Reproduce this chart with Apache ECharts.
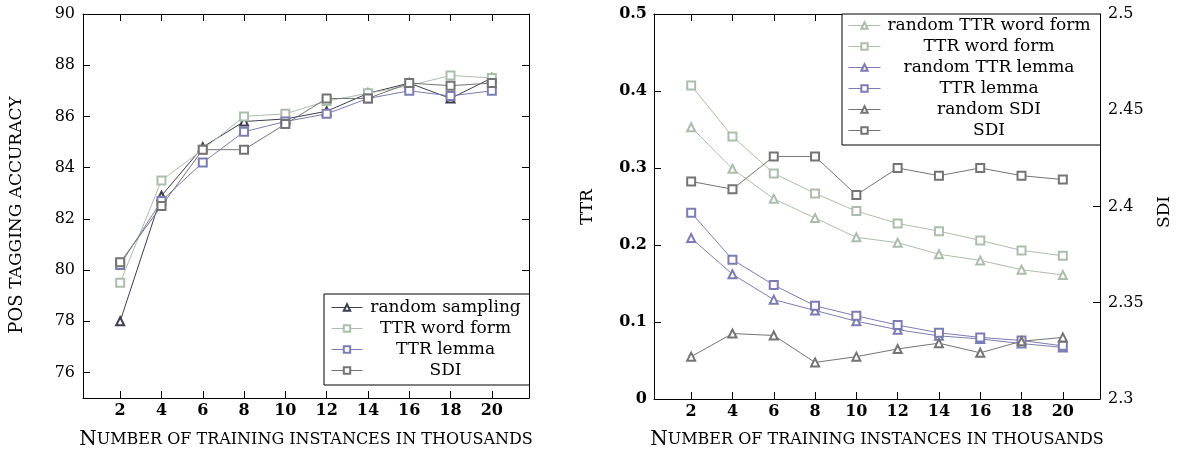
<!DOCTYPE html>
<html>
<head>
<meta charset="utf-8">
<script src="https://cdn.jsdelivr.net/npm/echarts@6/dist/echarts.min.js"></script>
<style>html,body{margin:0;padding:0;background:#fff;}#c{width:1183px;height:456px;}</style>
</head>
<body>
<div id="c"></div>
<script>
// ---------- data ----------
const xValues = [2, 4, 6, 8, 10, 12, 14, 16, 18, 20];
const xTicks = [2, 4, 6, 8, 10, 12, 14, 16, 18, 20];
const accTicks = [76, 78, 80, 82, 84, 86, 88, 90];
const ttrTicks = [0, 0.1, 0.2, 0.3, 0.4, 0.5];
const sdiTicks = [2.3, 2.35, 2.4, 2.45, 2.5];

// left chart: POS tagging accuracy
const accRandomSampling = [78.0, 82.9, 84.8, 85.8, 85.9, 86.2, 86.9, 87.3, 86.7, 87.5];
const accTTRWordForm    = [79.5, 83.5, 84.7, 86.0, 86.1, 86.6, 86.9, 87.2, 87.6, 87.5];
const accTTRLemma       = [80.2, 82.7, 84.2, 85.4, 85.8, 86.1, 86.7, 87.0, 86.8, 87.0];
const accSDI            = [80.3, 82.5, 84.7, 84.7, 85.7, 86.7, 86.7, 87.3, 87.2, 87.3];

// right chart: TTR (left axis) and SDI (right axis)
const randomTTRWordForm = [0.353, 0.299, 0.260, 0.235, 0.210, 0.203, 0.188, 0.180, 0.168, 0.161];
const ttrWordForm       = [0.407, 0.341, 0.293, 0.267, 0.244, 0.228, 0.218, 0.206, 0.193, 0.186];
const randomTTRLemma    = [0.209, 0.162, 0.129, 0.115, 0.101, 0.090, 0.082, 0.078, 0.072, 0.067];
const ttrLemma          = [0.242, 0.181, 0.148, 0.121, 0.108, 0.096, 0.086, 0.080, 0.076, 0.069];
const randomSDI         = [2.322, 2.334, 2.333, 2.319, 2.322, 2.326, 2.329, 2.324, 2.330, 2.332];
const sdiValues         = [2.413, 2.409, 2.426, 2.426, 2.406, 2.420, 2.416, 2.420, 2.416, 2.414];

// ---------- styling ----------
const FONT = 'DejaVu Serif';
const C_DARK = '#3e3e4e';
const C_GREEN = '#adbdad';
const C_BLUE = '#7c7cb2';
const C_GRAY = '#747474';

const pair = (ys) => xValues.map((x, i) => [x, ys[i]]);

function mkSeries(name, data, color, symbol, xi, yi) {
  return {
    type: 'line', name: name, data: pair(data),
    xAxisIndex: xi, yAxisIndex: yi,
    symbol: symbol, symbolSize: 8,
    showAllSymbol: true,
    lineStyle: { color: color, width: 1 },
    itemStyle: { color: color, borderColor: color, borderWidth: 1 },
    emphasis: { disabled: true },
    animation: false, z: 3
  };
}

const axisLine = { show: true, onZero: false, lineStyle: { color: '#000', width: 1 } };
function xAx(grid, pos, labels) {
  return {
    type: 'value', gridIndex: grid, position: pos, min: 0.2, max: 21.8,
    axisLine: axisLine,
    axisTick: { show: true, inside: true, length: 7, customValues: xTicks, lineStyle: { color: '#000' } },
    axisLabel: { show: labels, customValues: xTicks, color: '#000', fontFamily: FONT, fontSize: 16, fontWeight: 'bold', margin: 5 },
    splitLine: { show: false }
  };
}

const legendText = (w) => ({
  formatter: (n) => '{t|' + n.trim() + '}',
  itemStyle: { borderWidth: 1 },
  lineStyle: { width: 1 },
  textStyle: { rich: { t: { width: w, align: 'center', fontFamily: FONT, fontSize: 17, color: '#000', lineHeight: 20 } } }
});

const chart = echarts.init(document.getElementById('c'), null, { renderer: 'canvas' });
chart.setOption({
  backgroundColor: '#fff',
  animation: false,
  grid: [
    { left: 83, top: 14, width: 446, height: 384 },
    { left: 654, top: 14, width: 446, height: 385 }
  ],
  xAxis: [xAx(0, 'bottom', true), xAx(0, 'top', false), xAx(1, 'bottom', true), xAx(1, 'top', false)],
  yAxis: [
    {
      type: 'value', gridIndex: 0, position: 'left', min: 75, max: 90,
      axisLine: axisLine,
      axisTick: { show: true, inside: true, length: 7, customValues: accTicks, lineStyle: { color: '#000' } },
      axisLabel: { customValues: accTicks, color: '#000', fontFamily: FONT, fontSize: 16, margin: 8 },
      splitLine: { show: false }
    },
    {
      type: 'value', gridIndex: 0, position: 'right', min: 75, max: 90,
      axisLine: axisLine,
      axisTick: { show: true, inside: true, length: 7, customValues: accTicks, lineStyle: { color: '#000' } },
      axisLabel: { show: false },
      splitLine: { show: false }
    },
    {
      type: 'value', gridIndex: 1, position: 'left', min: 0, max: 0.5,
      axisLine: axisLine,
      axisTick: { show: true, inside: true, length: 7, customValues: ttrTicks, lineStyle: { color: '#000' } },
      axisLabel: { customValues: ttrTicks, color: '#000', fontFamily: FONT, fontSize: 16, fontWeight: 'bold', margin: 7,
        formatter: (v) => v === 0 ? '0' : String(Math.round(v * 10) / 10) },
      splitLine: { show: false }
    },
    {
      type: 'value', gridIndex: 1, position: 'right', min: 2.3, max: 2.5,
      axisLine: axisLine,
      axisTick: { show: true, inside: true, length: 7, customValues: sdiTicks, lineStyle: { color: '#000' } },
      axisLabel: { customValues: sdiTicks, color: '#000', fontFamily: FONT, fontSize: 16, margin: 8,
        formatter: (v) => String(Math.round(v * 100) / 100) },
      splitLine: { show: false }
    }
  ],
  legend: [
    Object.assign({
      orient: 'vertical', left: 324, top: 294,
      padding: [5, 6, 6, 7], itemGap: 4, itemWidth: 31, itemHeight: 8,
      backgroundColor: '#fff', borderColor: '#000', borderWidth: 1,
      selectedMode: false,
      data: ['random sampling', 'TTR word form', 'TTR lemma', 'SDI']
    }, legendText(156)),
    Object.assign({
      orient: 'vertical', left: 842, top: 14,
      padding: [3, 8, 6, 6], itemGap: 4, itemWidth: 32, itemHeight: 8,
      backgroundColor: '#fff', borderColor: '#000', borderWidth: 1,
      selectedMode: false,
      data: ['random TTR word form ', 'TTR word form ', 'random TTR lemma ', 'TTR lemma ', 'random SDI ', 'SDI ']
    }, legendText(207))
  ],
  series: [
    mkSeries('random sampling', accRandomSampling, C_DARK, 'emptyTriangle', 0, 0),
    mkSeries('TTR word form', accTTRWordForm, C_GREEN, 'emptyRect', 0, 0),
    mkSeries('TTR lemma', accTTRLemma, C_BLUE, 'emptyRect', 0, 0),
    mkSeries('SDI', accSDI, C_GRAY, 'emptyRect', 0, 0),
    mkSeries('random TTR word form ', randomTTRWordForm, C_GREEN, 'emptyTriangle', 2, 2),
    mkSeries('TTR word form ', ttrWordForm, C_GREEN, 'emptyRect', 2, 2),
    mkSeries('random TTR lemma ', randomTTRLemma, C_BLUE, 'emptyTriangle', 2, 2),
    mkSeries('TTR lemma ', ttrLemma, C_BLUE, 'emptyRect', 2, 2),
    mkSeries('random SDI ', randomSDI, C_GRAY, 'emptyTriangle', 2, 3),
    mkSeries('SDI ', sdiValues, C_GRAY, 'emptyRect', 2, 3)
  ],
  graphic: [
    { type: 'text', x: 306, y: 440, silent: true,
      style: { text: '{b|N}{s|UMBER OF TRAINING INSTANCES IN THOUSANDS}', align: 'center', verticalAlign: 'middle',
        rich: { b: { fontFamily: FONT, fontSize: 20, fill: '#000' }, s: { fontFamily: FONT, fontSize: 16, fill: '#000' } } } },
    { type: 'text', x: 877, y: 440, silent: true,
      style: { text: '{b|N}{s|UMBER OF TRAINING INSTANCES IN THOUSANDS}', align: 'center', verticalAlign: 'middle',
        rich: { b: { fontFamily: FONT, fontSize: 20, fill: '#000' }, s: { fontFamily: FONT, fontSize: 16, fill: '#000' } } } },
    { type: 'text', x: 17, y: 215, rotation: Math.PI / 2, silent: true,
      style: { text: '{b|POS }{s|TAGGING ACCURACY}', align: 'center', verticalAlign: 'middle',
        rich: { b: { fontFamily: FONT, fontSize: 18, fill: '#000' }, s: { fontFamily: FONT, fontSize: 17, fill: '#000' } } } },
    { type: 'text', x: 588, y: 207, rotation: Math.PI / 2, silent: true,
      style: { text: 'TTR', align: 'center', verticalAlign: 'middle', fontFamily: FONT, fontSize: 17, fill: '#000' } },
    { type: 'text', x: 1165, y: 212, rotation: Math.PI / 2, silent: true,
      style: { text: 'SDI', align: 'center', verticalAlign: 'middle', fontFamily: FONT, fontSize: 17, fill: '#000' } }
  ]
});
</script>
</body>
</html>
